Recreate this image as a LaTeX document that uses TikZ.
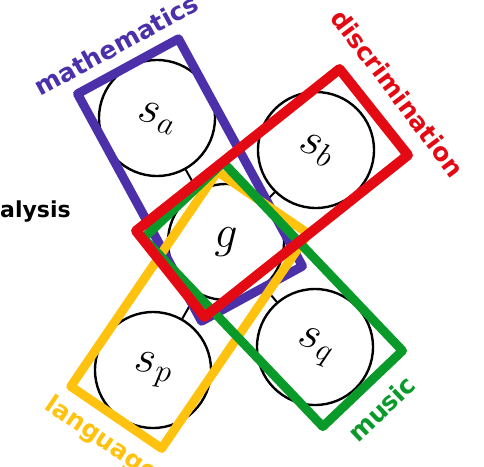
\RequirePackage{fix-cm}
\documentclass[tikz,border=0pt]{standalone}
\usepackage{fontspec}
\setmainfont{DejaVu Sans}
\usetikzlibrary{calc}
\definecolor{FacBlue}{HTML}{4B30AA}
\definecolor{FacRed}{HTML}{E30A14}
\definecolor{FacGold}{HTML}{FFC20E}
\definecolor{FacGreen}{HTML}{0A9A2A}

\begin{document}
\begin{tikzpicture}[
    x=1pt, y=-1pt,
    factor/.style={
      circle,
      draw=black,
      fill=white,
      line width=2.4pt,
      minimum size=116pt,
      inner sep=0pt,
      font=\fontsize{46}{46}\selectfont
    },
    group/.style={
      rectangle,
      line width=9pt,
      inner sep=0pt,
      line join=round
    },
    tag/.style={
      inner sep=0pt,
      font=\fontsize{25}{25}\selectfont\bfseries
    },
    link/.style={
      line width=2pt,
      draw=black
    }]

    \useasboundingbox (0,0) rectangle (484,466);
    \clip (0,0) rectangle (484,466);

    % Factors
    \node[factor] (sa) at (157,118) {\rotatebox{-15}{$s_a$}};
    \node[factor] (sb) at (316,150) {\rotatebox{-22}{$s_b$}};
    \node[factor] (g)  at (226,242) {$g$};
    \node[factor] (sp) at (153,370) {\rotatebox{-8}{$s_p$}};
    \node[factor] (sq) at (315,347) {\rotatebox{-20}{$s_q$}};

    \draw[link] (g) -- (sa);
    \draw[link] (g) -- (sb);
    \draw[link] (g) -- (sp);
    \draw[link] (g) -- (sq);

    % Groups
    \node[group,draw=FacBlue,minimum width=115pt,minimum height=259pt,rotate=28.6] (math) at (190,180) {};
    \node[group,draw=FacGold,minimum width=110pt,minimum height=260pt,rotate=-34.3] (lang) at (189.5,310) {};
    \node[group,draw=FacGreen,minimum width=260pt,minimum height=110pt,rotate=-46.4] (music) at (273,294.5) {};
    \node[group,draw=FacRed,line width=10pt,minimum width=260pt,minimum height=110pt,rotate=38.5] (disc) at (272,193) {};

    % Labels
    \node[tag,text=FacBlue,anchor=south,rotate=28.6] (mathlbl) at ($(math.north)!-10pt!(math.center)$) {mathematics};
    \node[tag,text=FacRed,anchor=south,rotate=-53] (disclbl) at ($(disc.east)!-16pt!(disc.center)$) {discrimination};
    \node[tag,text=FacGold,anchor=north,rotate=-34.3] (langlbl) at ($(lang.south)!-10pt!(lang.center)$) {language};
    \node[tag,text=FacGreen,anchor=north,rotate=43.6] (musiclbl) at ($(music.east)!-13pt!(music.center)$) {music};
    \node[tag,text=black,anchor=west,font=\fontsize{22}{22}\selectfont\bfseries] (anal) at (0,212) {alysis};
  \end{tikzpicture}
\end{document}
